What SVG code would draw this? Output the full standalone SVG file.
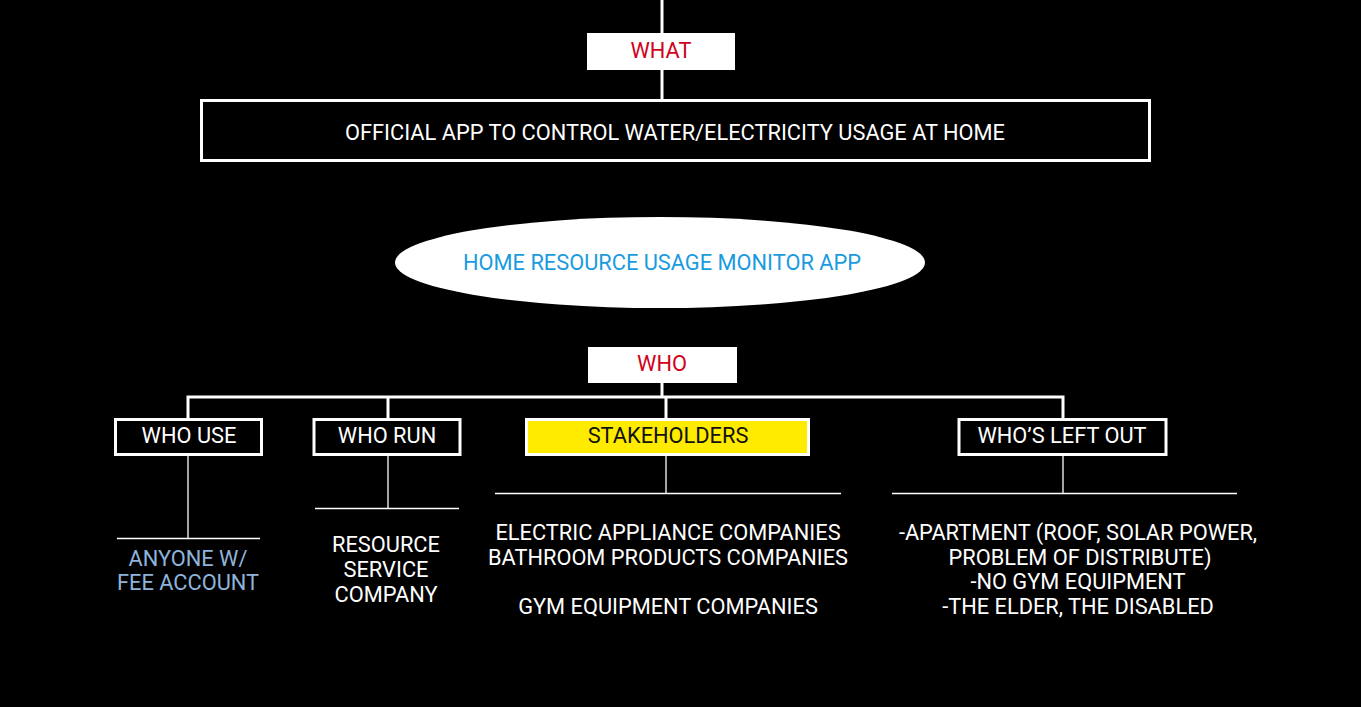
<svg xmlns="http://www.w3.org/2000/svg" width="1361" height="707" viewBox="0 0 1361 707">
<style>
text{font-family:Roboto,"Liberation Sans",sans-serif;font-size:21.8px;text-anchor:middle}
.w{fill:#ffffff}
.red{fill:#d0021b}
.thick{stroke:#ffffff;stroke-width:3;fill:none}
.thin{stroke:#ffffff;stroke-width:1.3;fill:none}
.box{stroke:#ffffff;stroke-width:3;fill:#000000}
</style>
<rect x="0" y="0" width="1361" height="707" fill="#000000"/>
<g id="connectors">
<line class="thick" x1="662" y1="0" x2="662" y2="100"/>
<line class="thick" x1="662" y1="383" x2="662" y2="397"/>
<polyline class="thick" points="188,419 188,397 1063,397 1063,419"/>
<line class="thick" x1="388" y1="397" x2="388" y2="419"/>
<line class="thick" x1="666" y1="397" x2="666" y2="419"/>
<line class="thin" x1="188" y1="456" x2="188" y2="538"/>
<line class="thin" x1="117" y1="538.5" x2="260" y2="538.5"/>
<line class="thin" x1="388" y1="456" x2="388" y2="508"/>
<line class="thin" x1="315" y1="508.5" x2="459" y2="508.5"/>
<line class="thin" x1="666" y1="456" x2="666" y2="493"/>
<line class="thin" x1="495" y1="493.5" x2="841" y2="493.5"/>
<line class="thin" x1="1063" y1="456" x2="1063" y2="493"/>
<line class="thin" x1="892" y1="493.5" x2="1237" y2="493.5"/>
</g>
<g id="what">
<rect x="587" y="33" width="148" height="37" fill="#ffffff"/>
<text x="661" y="58" class="red">WHAT</text>
</g>
<g id="official">
<rect x="201.5" y="100.5" width="948" height="60" class="box"/>
<text x="675" y="140" class="w">OFFICIAL APP TO CONTROL WATER/ELECTRICITY USAGE AT HOME</text>
</g>
<g id="app">
<ellipse cx="660" cy="262.5" rx="265" ry="45.5" fill="#ffffff"/>
<text x="662" y="270" fill="#1a9be0">HOME RESOURCE USAGE MONITOR APP</text>
</g>
<g id="who">
<rect x="588" y="347" width="149" height="36" fill="#ffffff"/>
<text x="662" y="371" class="red">WHO</text>
</g>
<g id="who-use">
<rect x="115.5" y="419.5" width="146" height="35" class="box"/>
<text x="189" y="443" class="w">WHO USE</text>
<text x="188" y="566" fill="#8fb4dc">ANYONE W/</text>
<text x="188" y="590" fill="#8fb4dc">FEE ACCOUNT</text>
</g>
<g id="who-run">
<rect x="314" y="419.5" width="146" height="35" class="box"/>
<text x="387" y="443" class="w">WHO RUN</text>
<text x="386" y="552" class="w">RESOURCE</text>
<text x="386" y="577" class="w">SERVICE</text>
<text x="386" y="602" class="w">COMPANY</text>
</g>
<g id="stakeholders">
<rect x="526.5" y="419.5" width="282" height="35" fill="#ffeb00" stroke="#ffffff" stroke-width="3"/>
<text x="668" y="443" fill="#111111">STAKEHOLDERS</text>
<text x="668" y="540" class="w">ELECTRIC APPLIANCE COMPANIES</text>
<text x="668" y="565" class="w">BATHROOM PRODUCTS COMPANIES</text>
<text x="668" y="614" class="w">GYM EQUIPMENT COMPANIES</text>
</g>
<g id="left-out">
<rect x="959" y="419.5" width="207" height="35" class="box"/>
<text x="1062" y="443" class="w">WHO’S LEFT OUT</text>
<text x="1078" y="540" class="w">-APARTMENT (ROOF, SOLAR POWER,</text>
<text x="1080" y="565" class="w">PROBLEM OF DISTRIBUTE)</text>
<text x="1078" y="589" class="w">-NO GYM EQUIPMENT</text>
<text x="1078" y="614" class="w">-THE ELDER, THE DISABLED</text>
</g>
</svg>
